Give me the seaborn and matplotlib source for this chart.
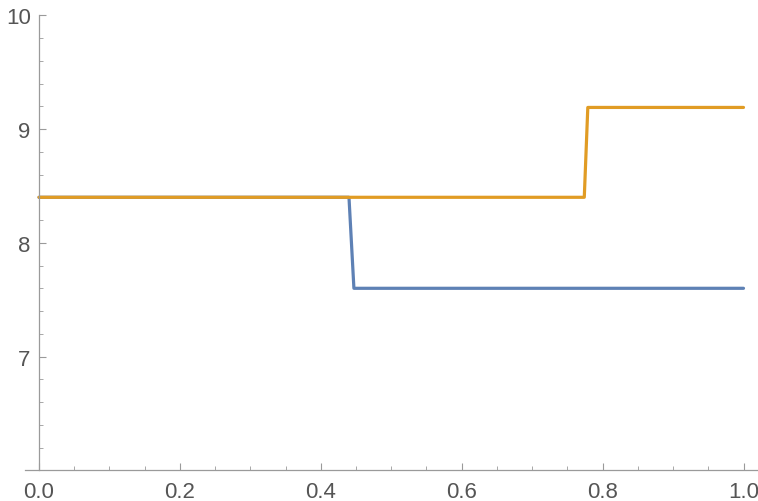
import matplotlib
matplotlib.use("Agg")
import matplotlib.pyplot as plt
import seaborn as sns
import pandas as pd
from matplotlib.ticker import MultipleLocator, FixedLocator

# data
blue_x = [0.0, 0.440, 0.447, 1.0]
blue_y = [8.4, 8.4, 7.6, 7.6]
orange_x = [0.0, 0.774, 0.779, 1.0]
orange_y = [8.4, 8.4, 9.19, 9.19]
x_ticks = [0.0, 0.2, 0.4, 0.6, 0.8, 1.0]
x_tick_labels = ["0.0", "0.2", "0.4", "0.6", "0.8", "1.0"]
y_ticks = [7, 8, 9, 10]
y_tick_labels = ["7", "8", "9", "10"]

sns.set_style("white")
plt.rcParams['font.family'] = ['Liberation Sans', 'DejaVu Sans']

W, H = 758, 502
fig = plt.figure(figsize=(W / 100, H / 100), dpi=100)
x0_px, x1_px = 39.0, 743.5
top_px, bot_px = 16.3, 471.3
pxu = x1_px - x0_px
pad = 14 / pxu
left_px = x0_px - 14
right_px = x1_px + 14
ax = fig.add_axes([left_px / W, 1 - bot_px / H, (right_px - left_px) / W, (bot_px - top_px) / H])

df_b = pd.DataFrame({"x": blue_x, "y": blue_y})
df_o = pd.DataFrame({"x": orange_x, "y": orange_y})
sns.lineplot(data=df_b, x="x", y="y", sort=False, ax=ax, color="#5E81B5", linewidth=2.3, estimator=None)
sns.lineplot(data=df_o, x="x", y="y", sort=False, ax=ax, color="#E19C24", linewidth=2.3, estimator=None)

ax.set_xlim(-pad, 1 + pad)
ax.set_ylim(6, 10)

axis_color = "#9a9a9a"
for s in ["top", "right"]:
    ax.spines[s].set_visible(False)
ax.spines["left"].set_position(("data", 0))
ax.spines["bottom"].set_position(("data", 6))
ax.spines["left"].set_color(axis_color)
ax.spines["bottom"].set_color(axis_color)
ax.spines["left"].set_linewidth(0.9)
ax.spines["bottom"].set_linewidth(0.9)

ax.xaxis.set_major_locator(FixedLocator(x_ticks))
ax.set_xticklabels(x_tick_labels)
ax.xaxis.set_minor_locator(MultipleLocator(0.05))
ax.yaxis.set_major_locator(FixedLocator(y_ticks))
ax.set_yticklabels(y_tick_labels)
ax.yaxis.set_minor_locator(MultipleLocator(0.2))

ax.tick_params(axis="both", which="both", bottom=True, left=True, top=False, right=False)
ax.tick_params(axis="both", which="major", direction="in", length=5, width=0.8,
               color=axis_color, labelcolor="#555555", labelsize=16)
ax.tick_params(axis="both", which="minor", direction="in", length=3, width=0.6, color=axis_color)
ax.tick_params(axis="x", which="major", pad=8)
ax.tick_params(axis="y", which="major", pad=6)
ax.set_xlabel("")
ax.set_ylabel("")
ax.set_facecolor("white")
fig.patch.set_facecolor("white")

fig.savefig("out.png", dpi=100)
